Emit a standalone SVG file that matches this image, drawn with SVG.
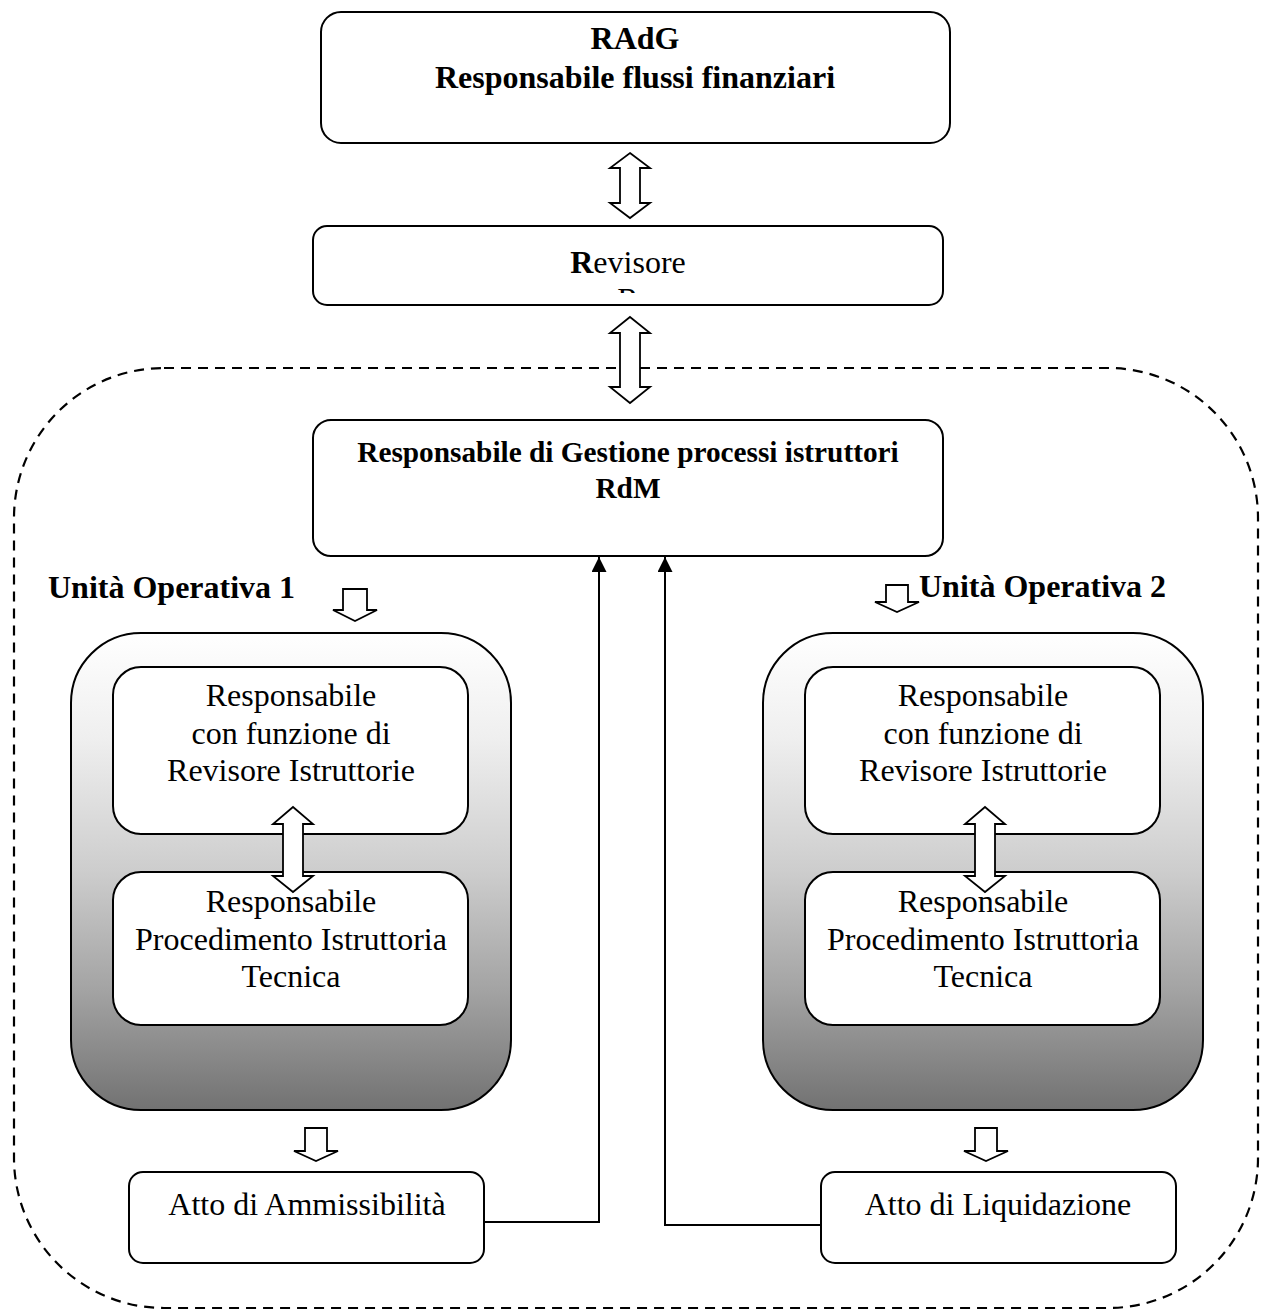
<svg xmlns="http://www.w3.org/2000/svg" width="1263" height="1316" viewBox="0 0 1263 1316">
<style>
.box{fill:#fff;stroke:#000;stroke-width:2}
.arr{fill:#fff;stroke:#000;stroke-width:1.8;stroke-linejoin:miter}
.conn{fill:none;stroke:#000;stroke-width:2}
text{font-family:"Liberation Serif","Times New Roman",serif;font-size:32px;fill:#000}
.b{font-weight:bold}
.c{text-anchor:middle}
</style>
<defs>
<linearGradient id="g" x1="0" y1="0" x2="0" y2="1">
<stop offset="0" stop-color="#ffffff"/>
<stop offset="0.22" stop-color="#efefef"/>
<stop offset="0.5" stop-color="#cdcdcd"/>
<stop offset="0.75" stop-color="#a3a3a3"/>
<stop offset="1" stop-color="#727272"/>
</linearGradient>
<marker id="ah" viewBox="0 0 15 15" refX="15" refY="7.5" markerWidth="15" markerHeight="15" markerUnits="userSpaceOnUse" orient="auto">
<path d="M0,0 L15,7.5 L0,15 z" fill="#000"/>
</marker>
<clipPath id="revclip"><rect x="313" y="226" width="630" height="67"/></clipPath>
</defs>

<rect x="14" y="368" width="1244" height="940" rx="150" ry="150" fill="none" stroke="#000" stroke-width="2.2" stroke-dasharray="10,7"/>

<g id="radg">
<rect class="box" x="321" y="12" width="629" height="131" rx="20"/>
<text class="b c" x="635" y="49">RAdG</text>
<text class="b c" x="635" y="88">Responsabile flussi finanziari</text>
</g>

<g id="revisore">
<rect class="box" x="313" y="226" width="630" height="79" rx="14"/>
<text class="c" x="628" y="273"><tspan class="b">R</tspan>evisore</text>
<text class="c" x="628" y="310" clip-path="url(#revclip)">R</text>
</g>

<g id="rdm">
<rect class="box" x="313" y="420" width="630" height="136" rx="18"/>
<text class="b c" x="628" y="462" style="font-size:29.3px">Responsabile di Gestione processi istruttori</text>
<text class="b c" x="628" y="498" style="font-size:29.3px">RdM</text>
</g>

<g id="uo1">
<text class="b" x="48" y="598">Unità Operativa 1</text>
<rect x="71" y="633" width="440" height="477" rx="70" fill="url(#g)" stroke="#000" stroke-width="2"/>
<g id="uo1-rev">
<rect class="box" x="113" y="667" width="355" height="167" rx="28"/>
<text class="c" x="291" y="706">Responsabile</text>
<text class="c" x="291" y="744">con funzione di</text>
<text class="c" x="291" y="781">Revisore Istruttorie</text>
</g>
<g id="uo1-proc">
<rect class="box" x="113" y="872" width="355" height="153" rx="28"/>
<text class="c" x="291" y="912">Responsabile</text>
<text class="c" x="291" y="950">Procedimento Istruttoria</text>
<text class="c" x="291" y="987">Tecnica</text>
</g>
</g>

<g id="uo2">
<text class="b" x="919" y="597">Unità Operativa 2</text>
<rect x="763" y="633" width="440" height="477" rx="70" fill="url(#g)" stroke="#000" stroke-width="2"/>
<g id="uo2-rev">
<rect class="box" x="805" y="667" width="355" height="167" rx="28"/>
<text class="c" x="983" y="706">Responsabile</text>
<text class="c" x="983" y="744">con funzione di</text>
<text class="c" x="983" y="781">Revisore Istruttorie</text>
</g>
<g id="uo2-proc">
<rect class="box" x="805" y="872" width="355" height="153" rx="28"/>
<text class="c" x="983" y="912">Responsabile</text>
<text class="c" x="983" y="950">Procedimento Istruttoria</text>
<text class="c" x="983" y="987">Tecnica</text>
</g>
</g>

<g id="atto-amm">
<rect class="box" x="129" y="1172" width="355" height="91" rx="14"/>
<text class="c" x="307" y="1215">Atto di Ammissibilità</text>
</g>

<g id="atto-liq">
<rect class="box" x="821" y="1172" width="355" height="91" rx="14"/>
<text class="c" x="998" y="1215">Atto di Liquidazione</text>
</g>

<g id="connectors">
<polygon class="arr" points="630,153 650,168 640,168 640,203 650,203 630,218 610,203 620,203 620,168 610,168"/>
<polygon class="arr" points="630,317 650,333 640,333 640,387 650,387 630,403 610,387 620,387 620,333 610,333"/>
<polygon class="arr" points="293,807 313,824 303,824 303,876 313,876 293,892 273,876 283,876 283,824 273,824"/>
<polygon class="arr" points="985,807 1005,824 995,824 995,876 1005,876 985,892 965,876 975,876 975,824 965,824"/>
<polygon class="arr" points="343,589 367,589 367,610 377,610 355,621 333,610 343,610"/>
<polygon class="arr" points="886,585 908,585 908,602 919,602 897,612 875,602 886,602"/>
<polygon class="arr" points="305,1128 327,1128 327,1151 338,1151 316,1161 294,1151 305,1151"/>
<polygon class="arr" points="975,1128 997,1128 997,1151 1008,1151 986,1161 964,1151 975,1151"/>
<path class="conn" d="M484,1222 H599 V557" marker-end="url(#ah)"/>
<path class="conn" d="M821,1225 H665 V557" marker-end="url(#ah)"/>
</g>
</svg>
